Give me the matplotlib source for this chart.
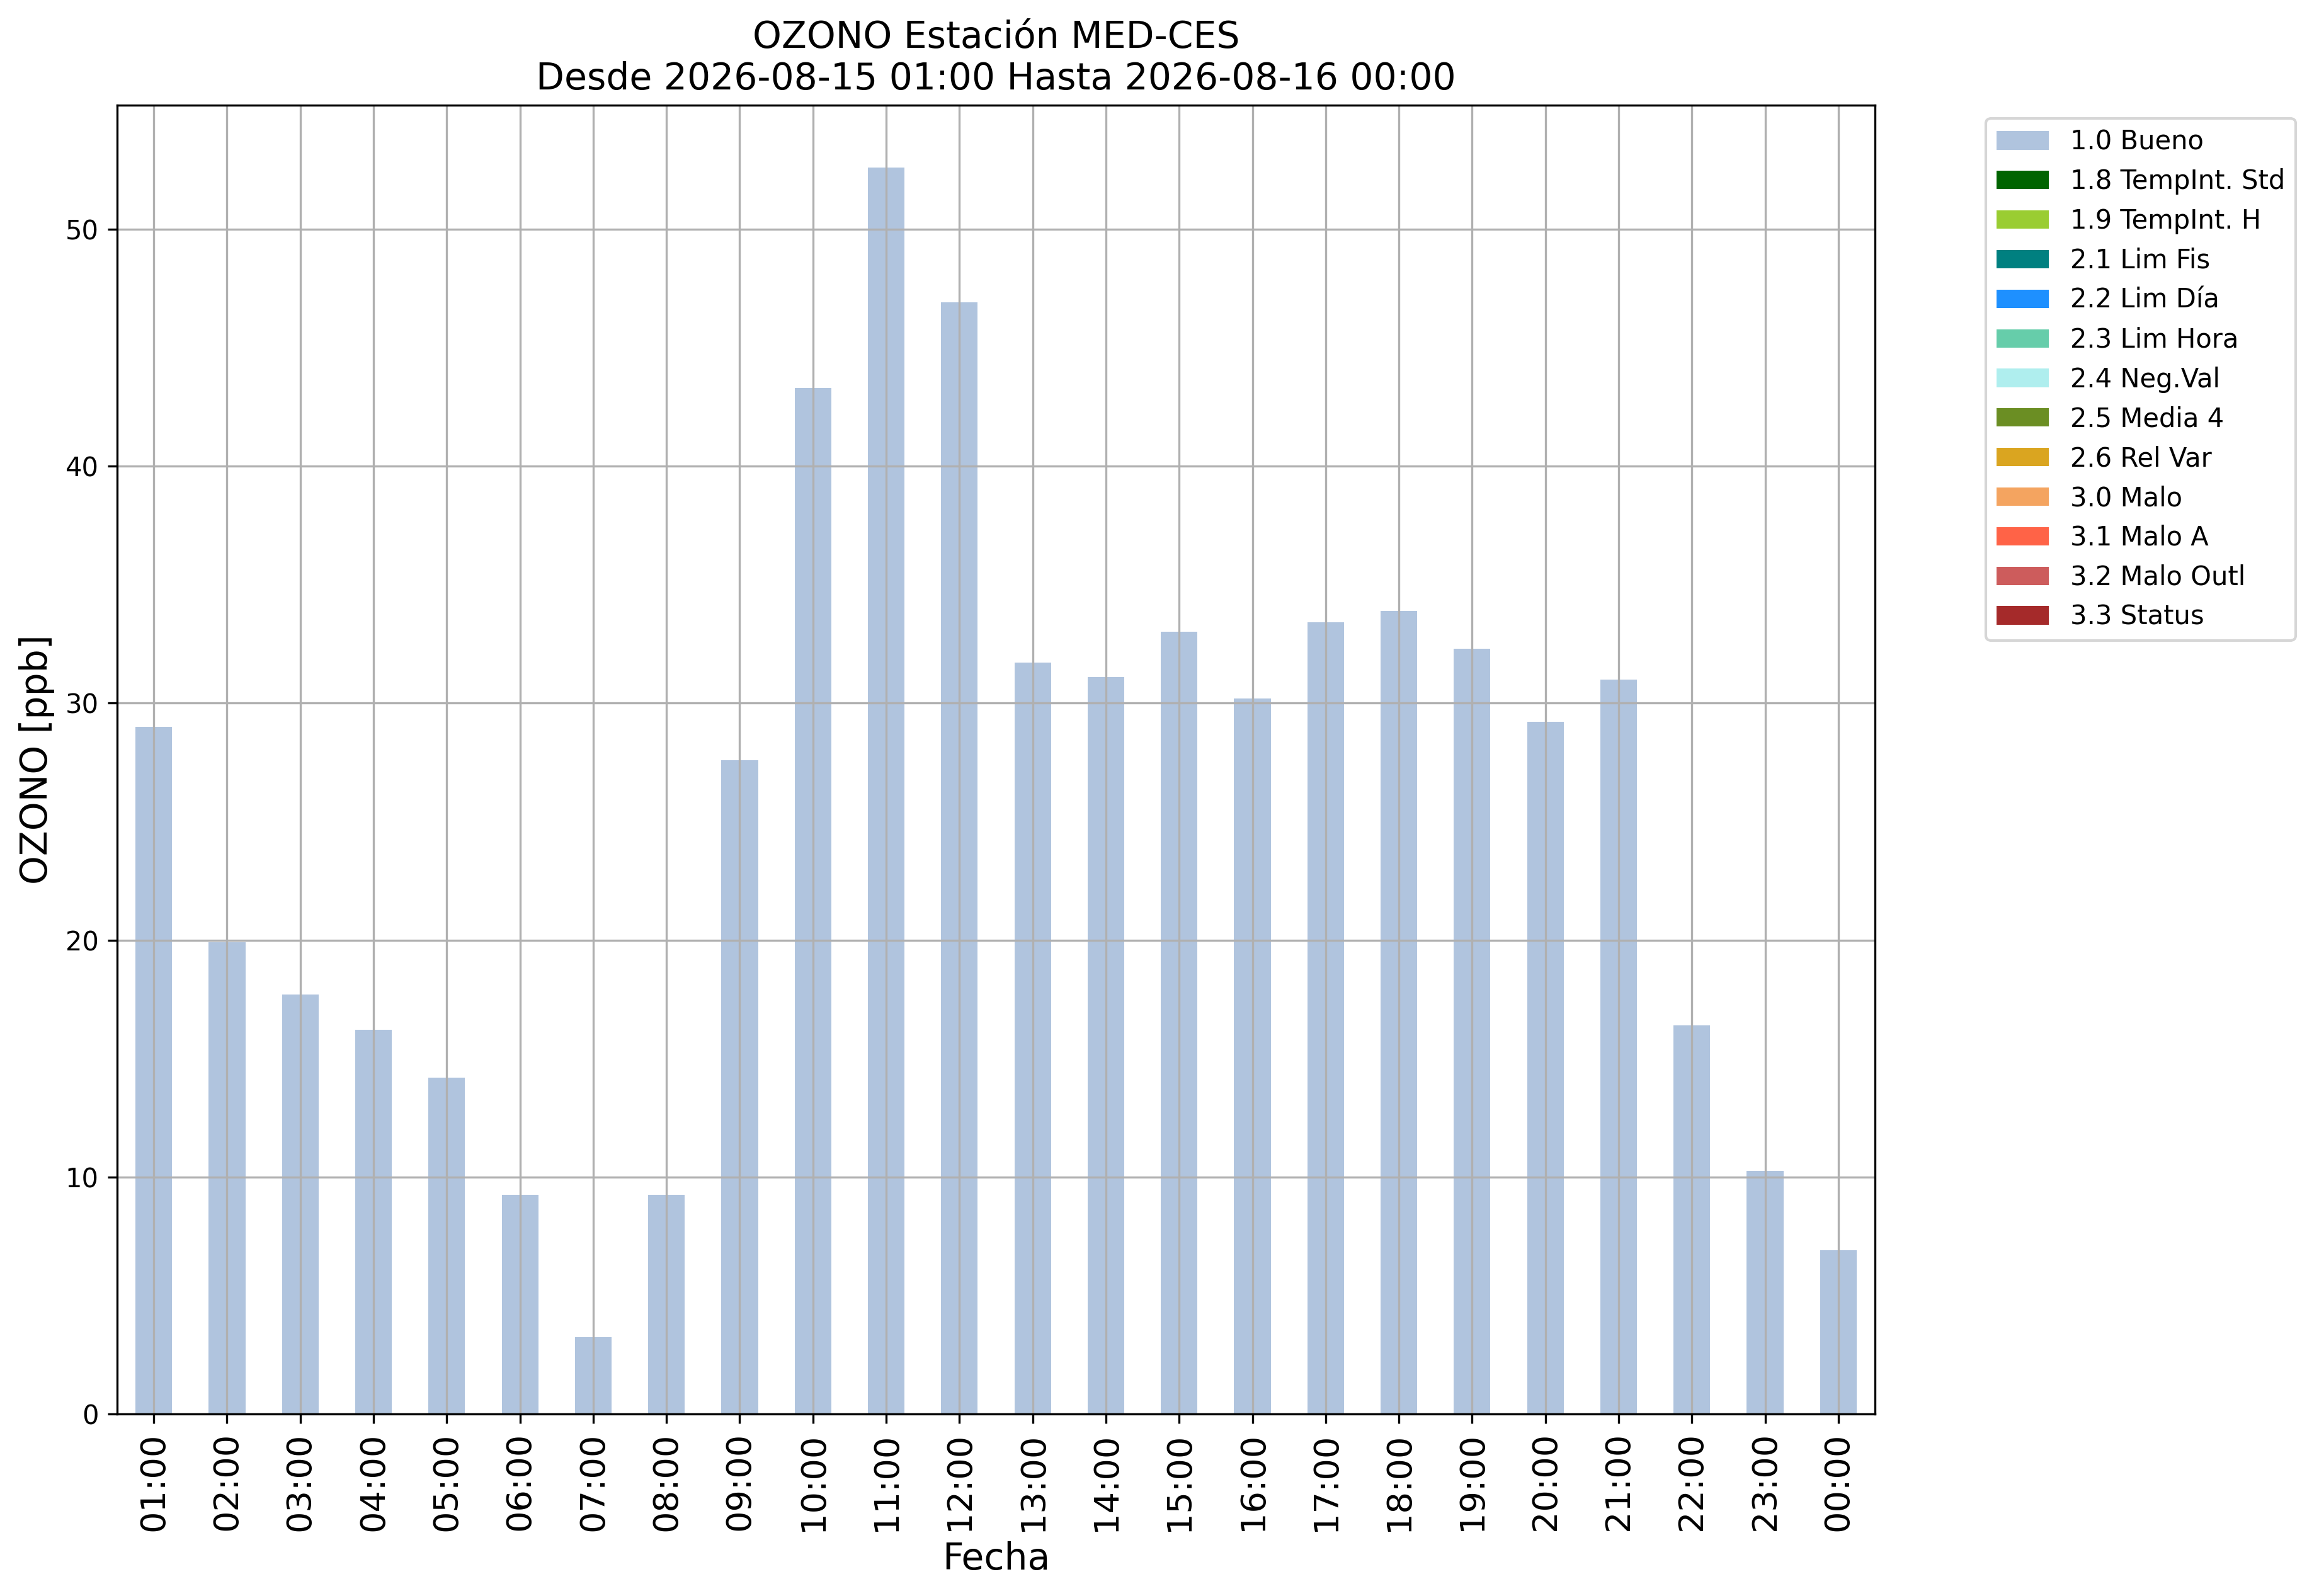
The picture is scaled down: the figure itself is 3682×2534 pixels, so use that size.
import matplotlib
matplotlib.use("Agg")
import matplotlib.pyplot as plt
import numpy as np

# hourly ozone values, 2026-08-15 01:00 .. 2026-08-16 00:00
horas = ["01:00", "02:00", "03:00", "04:00", "05:00", "06:00", "07:00", "08:00",
         "09:00", "10:00", "11:00", "12:00", "13:00", "14:00", "15:00", "16:00",
         "17:00", "18:00", "19:00", "20:00", "21:00", "22:00", "23:00", "00:00"]
ozono = [29.0, 19.9, 17.7, 16.2, 14.2, 9.25, 3.25, 9.25,
         27.6, 43.3, 52.6, 46.9, 31.7, 31.1, 33.0, 30.2,
         33.4, 33.9, 32.3, 29.2, 31.0, 16.4, 10.25, 6.9]

# quality flags and their colours
banderas = ["1.0 Bueno", "1.8 TempInt. Std", "1.9 TempInt. H", "2.1 Lim Fis",
            "2.2 Lim Día", "2.3 Lim Hora", "2.4 Neg.Val", "2.5 Media 4",
            "2.6 Rel Var", "3.0 Malo", "3.1 Malo A", "3.2 Malo Outl", "3.3 Status"]
colores = ["lightsteelblue", "darkgreen", "yellowgreen", "teal", "dodgerblue",
           "mediumaquamarine", "paleturquoise", "olivedrab", "goldenrod",
           "sandybrown", "tomato", "indianred", "brown"]

# every hour is flagged 1.0 Bueno
valores = {b: [0.0] * len(horas) for b in banderas}
valores["1.0 Bueno"] = ozono

fig = plt.figure(figsize=(3682 / 300, 2534 / 300), dpi=300)
ax = fig.add_axes([186 / 3682, 1 - 2245 / 2534, (2977 - 186) / 3682, (2245 - 167) / 2534])

x = np.arange(len(horas))
base = np.zeros(len(horas))
for b, c in zip(banderas, colores):
    v = np.array(valores[b])
    ax.bar(x, v, width=0.5, bottom=base, color=c, label=b)
    base = base + v

ax.set_xlim(-0.5, len(horas) - 0.5)
ax.set_ylim(0, base.max() * 1.05)
ax.set_xticks(x)
ax.set_xticklabels(horas, rotation=90, fontsize=13)
ax.tick_params(axis="y", labelsize=10)
ax.grid(True)

ax.set_xlabel("Fecha", fontsize=14)
ax.set_ylabel("OZONO [ppb]", fontsize=14)
ax.set_title("OZONO Estación MED-CES\nDesde 2026-08-15 01:00 Hasta 2026-08-16 00:00", fontsize=14)

ax.legend(bbox_to_anchor=(1.0557, 1), loc="upper left", fontsize=10)

fig.savefig("out.png", dpi=300)
